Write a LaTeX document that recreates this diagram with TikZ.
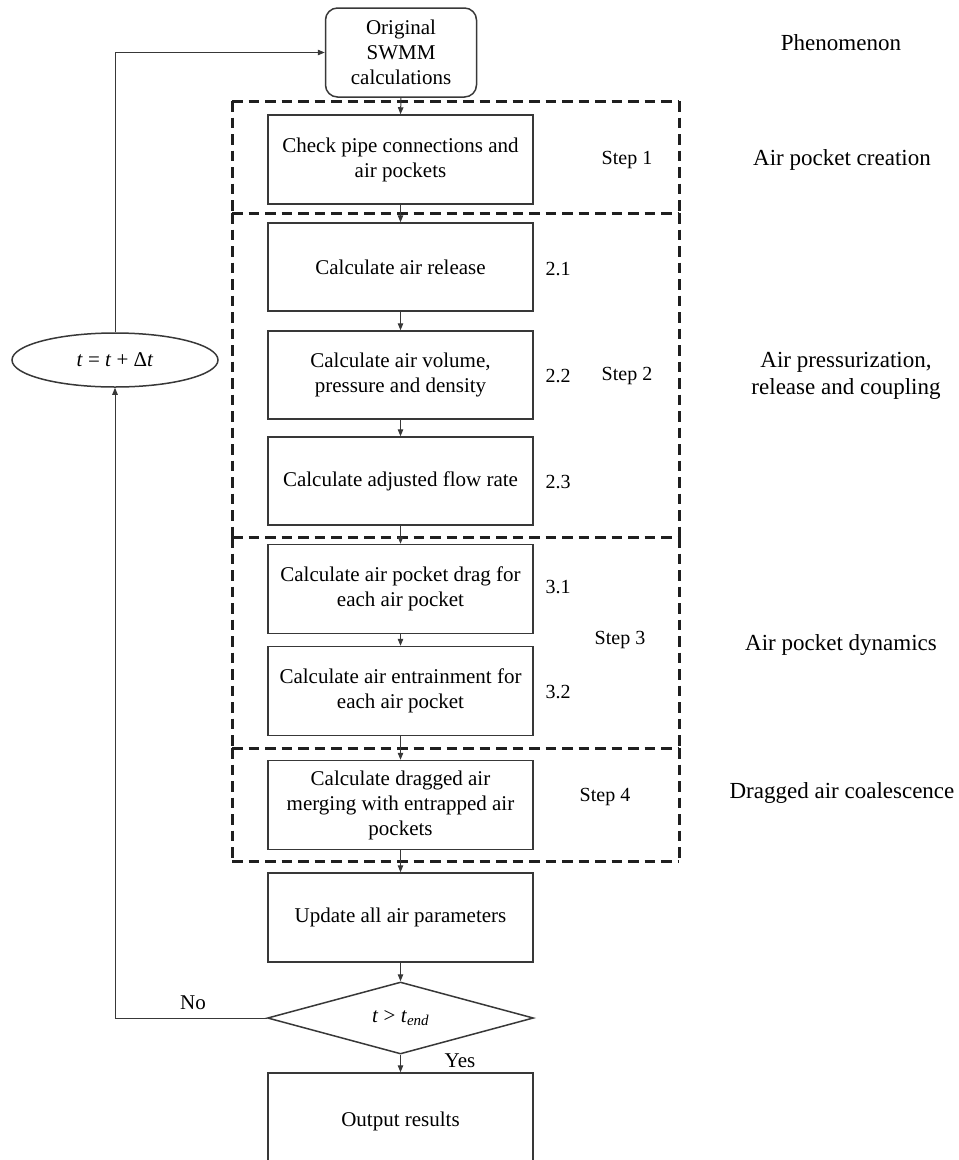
\documentclass[tikz,border=0pt]{standalone}
\usepackage{fontspec}
\setmainfont{Liberation Serif}
\usetikzlibrary{arrows.meta,shapes.geometric}
\begin{document}
\begin{tikzpicture}[x=1pt,y=-1pt,
  box/.style={draw=black!78, line width=1.5pt, minimum width=265pt, minimum height=89pt, align=center, font=\fontsize{21}{25}\selectfont, inner sep=2pt},
  conn/.style={draw=black!78, line width=1pt, -{Triangle[length=7pt,width=5.5pt]}},
  stepbox/.style={draw=black!88, line width=3pt, dash pattern=on 10.5pt off 6pt},
  lab/.style={font=\fontsize{20}{24}\selectfont},
  phen/.style={font=\fontsize{23}{27}\selectfont, align=center}]
\useasboundingbox (0,0) rectangle (959,1160);
\clip (0,0) rectangle (959,1160);

% dashed step frames (shared edges drawn once)
\draw[stepbox] (232,101) -- (679,101);
\draw[stepbox] (232,213) -- (679,213);
\draw[stepbox] (232,537) -- (679,537);
\draw[stepbox] (232,748) -- (679,748);
\draw[stepbox] (232,861) -- (679,861);
\foreach \ya/\yb in {101/213, 213/537, 537/748, 748/861}{
  \draw[stepbox] (232,\ya) -- (232,\yb);
  \draw[stepbox] (679,\ya) -- (679,\yb);
}

% process boxes
\node[box, rounded corners=12pt, minimum width=151pt] (orig) at (401,52.5) {Original\\SWMM\\calculations};
\node[box] (check) at (400.5,159.5) {Check pipe connections and\\air pockets};
\node[box, minimum height=88pt] (rel) at (400.5,267) {Calculate air release};
\node[box, minimum height=88pt] (vol) at (400.5,375) {Calculate air volume,\\pressure and density};
\node[box, minimum height=88pt] (adj) at (400.5,481) {Calculate adjusted flow rate};
\node[box] (drag) at (400.5,589) {Calculate air pocket drag for\\each air pocket};
\node[box] (ent) at (400.5,691) {Calculate air entrainment for\\each air pocket};
\node[box] (merge) at (400.5,805) {Calculate dragged air\\merging with entrapped air\\pockets};
\node[box] (upd) at (400.5,917.5) {Update all air parameters};
\node[draw=black!78, line width=1.5pt, diamond, aspect=3.7, minimum width=266pt, minimum height=72pt, inner sep=0pt, font=\fontsize{21}{25}\selectfont] (dec) at (400.5,1018) {\textit{t} > \textit{t}\raisebox{-0.35ex}{\fontsize{15}{15}\selectfont\textit{end}}};
\node[box, minimum height=97pt] (out) at (400.5,1121.5) {Output results};
\node[draw=black!78, line width=1.5pt, ellipse, minimum width=206pt, minimum height=54pt, inner sep=0pt, font=\fontsize{21}{25}\selectfont] (ell) at (115,360) {\textit{t} = \textit{t} + Δ\textit{t}};

% connectors
\draw[conn] (orig.south) -- (check.north);
\draw[conn] (check.south) -- (rel.north);
\draw[conn] (rel.south) -- (vol.north);
\draw[conn] (vol.south) -- (adj.north);
\draw[conn] (adj.south) -- (drag.north);
\draw[conn] (drag.south) -- (ent.north);
\draw[conn] (ent.south) -- (merge.north);
\draw[conn] (merge.south) -- (upd.north);
\draw[conn] (upd.south) -- (dec.north);
\draw[conn] (dec.south) -- (out.north);
\draw[conn] (dec.west) -| (ell.south);
\draw[conn] (ell.north) |- (orig.west);

% connector labels
\node[font=\fontsize{21}{25}\selectfont] (no) at (193,1003) {No};
\node[font=\fontsize{21}{25}\selectfont] (yes) at (460,1061) {Yes};

% step labels
\node[lab] (s1) at (627,160) {Step 1};
\node[lab] (s2) at (627,376) {Step 2};
\node[lab] (s3) at (620,640) {Step 3};
\node[lab] (s4) at (605,797) {Step 4};
\node[lab] (n21) at (558,269) {2.1};
\node[lab] (n22) at (558,376) {2.2};
\node[lab] (n23) at (558,482) {2.3};
\node[lab] (n31) at (558,587) {3.1};
\node[lab] (n32) at (558,692) {3.2};

% phenomenon column
\node[phen] (ph) at (841,43) {Phenomenon};
\node[phen] (p1) at (842,160) {Air pocket creation};
\node[phen] (p2) at (846,376) {Air pressurization,\\release and coupling};
\node[phen] (p3) at (841,645) {Air pocket dynamics};
\node[phen] (p4) at (842,793) {Dragged air coalescence};
\end{tikzpicture}
\end{document}
